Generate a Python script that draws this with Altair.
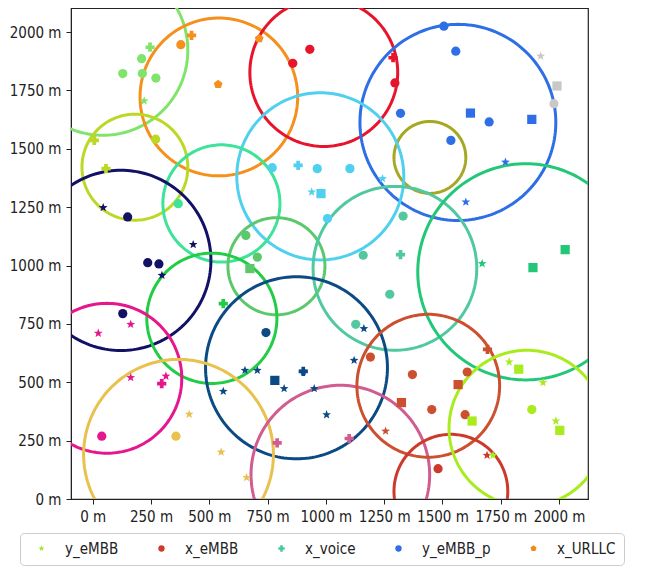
import math
import altair as alt
import pandas as pd

# ---------------- data ----------------
# cell circles (centre x, centre y, radius in metres) and their colours
cell_x = [44, 541, 991, 1566, 1446, 976, 181, 552, 121, 788, 1296, 1857, 511, 874, 61, 368, 1062, 1439, 1536, 1862]
cell_y = [1922, 1722, 1827, 1613, 1463, 1382, 1421, 1266, 1022, 997, 988, 973, 774, 562, 517, 191, 104, 485, 33, 303]
cell_r = [364, 338, 317, 420, 154, 358, 227, 251, 386, 208, 351, 463, 279, 390, 321, 407, 383, 306, 244, 334]
cell_colors = ["#80e36c", "#f5901c", "#e8142c", "#2e6ee6", "#a6a823", "#4fd0ee", "#bcd827", "#3ee39a",
               "#121166", "#5cc86c", "#52c8a0", "#22c878", "#22cc44", "#0b4a84", "#e6168c", "#e8c14f",
               "#d05c90", "#cc5030", "#cc3a2c", "#a8ec1e"]
grey_color = "#c8c8c8"

# user points: x, y (m), kind, cell index (20 = grey, no cell drawn)
pt_x = [246, 210, 129, 213, 271, 221,
        378, 424, 538, 714,
        858, 931, 1288, 1296,
        1506, 1557, 1320, 1620, 1700, 1883, 1536, 1770, 1600,
        770, 881, 963, 1103, 939, 979, 1243, 1007,
        7, 57, 270,
        367,
        45, 150, 431, 236, 284, 297, 129,
        657, 706, 674,
        1331, 1160, 1320, 1274, 1128,
        1670, 2026, 1888,
        560,
        743, 653, 706, 560, 781, 821, 903, 903, 950, 1003, 1121, 1163,
        24, 163, 163, 296, 314, 39,
        414, 357, 551, 660,
        791, 1100,
        1191, 1371, 1693, 1606, 1567, 1324, 1454, 1597, 1256,
        1481, 1691,
        1786, 1827, 1931, 1883, 1627, 1986, 2003, 1717,
        1921, 1991, 1978]
pt_y = [1935, 1886, 1822, 1822, 1803, 1705,
        1946, 1986, 1776, 1972,
        1866, 1926, 1890, 1782,
        2025, 1918, 1652, 1653, 1615, 1626, 1536, 1443, 1272,
        1419, 1429, 1415, 1415, 1315, 1308, 1372, 1201,
        1536, 1415, 1541,
        1265,
        1248, 1208, 1090, 1012, 1007, 958, 794,
        1129, 1036, 987,
        1212, 1044, 1047, 877, 748,
        1008, 1068, 991,
        837,
        713, 551, 551, 461, 508, 473, 547, 547, 473, 361, 594, 730,
        710, 748, 520, 494, 526, 269,
        363, 269, 201, 92,
        240, 259,
        608, 533, 641, 544, 490, 413, 383, 361, 291,
        130, 187,
        587, 556, 499, 383, 334, 334, 294, 187,
        1897, 1769, 1693]
pt_kind = ["plus", "circle", "circle", "circle", "circle", "star",
           "circle", "plus", "pentagon", "pentagon",
           "circle", "circle", "plus", "circle",
           "circle", "circle", "circle", "square", "circle", "square", "circle", "star", "star",
           "circle", "plus", "circle", "circle", "star", "square", "star", "circle",
           "plus", "plus", "circle",
           "circle",
           "star", "circle", "star", "circle", "circle", "star", "circle",
           "circle", "circle", "square",
           "circle", "circle", "plus", "circle", "circle",
           "star", "square", "square",
           "plus",
           "circle", "star", "star", "star", "square", "star", "plus", "star", "star", "star", "star", "star",
           "star", "star", "star", "plus", "star", "circle",
           "star", "circle", "star", "star",
           "plus", "plus",
           "circle", "circle", "plus", "circle", "square", "square", "circle", "circle", "star",
           "circle", "star",
           "star", "square", "star", "circle", "square", "star", "square", "star",
           "star", "square", "circle"]
pt_cell = [0] * 6 + [1] * 4 + [2] * 4 + [3] * 9 + [5] * 8 + [6] * 3 + [7] * 1 + [8] * 7 + [9] * 3 + \
          [10] * 5 + [11] * 3 + [12] * 1 + [13] * 12 + [14] * 6 + [15] * 4 + [16] * 2 + [17] * 9 + \
          [18] * 2 + [19] * 8 + [20] * 3

legend_names = ["y_eMBB", "x_eMBB", "x_voice", "y_eMBB_p", "x_URLLC"]
legend_colors = ["#9fe82a", "#d03a2a", "#44c8a0", "#2e6ee6", "#f08a14"]
legend_kinds = ["star", "circle", "plus", "circle", "pentagon"]

x_ticks = [0, 250, 500, 750, 1000, 1250, 1500, 1750, 2000]
y_ticks = [0, 250, 500, 750, 1000, 1250, 1500, 1750, 2000]


# ---------------- marker shapes ----------------
def star_path(inner=0.42):
    pts = []
    for k in range(10):
        rr = 1.0 if k % 2 == 0 else inner
        a = math.radians(-90 + 36 * k)
        pts.append((rr * math.cos(a), rr * math.sin(a)))
    return "M" + "L".join(f"{px:.3f},{py:.3f}" for px, py in pts) + "Z"


def pentagon_path():
    pts = []
    for k in range(5):
        a = math.radians(-90 + 72 * k)
        pts.append((math.cos(a), math.sin(a)))
    return "M" + "L".join(f"{px:.3f},{py:.3f}" for px, py in pts) + "Z"


kind_domain = ["star", "circle", "plus", "square", "pentagon"]
kind_range = [star_path(), "circle", "cross", "square", pentagon_path()]
legend_shapes = [kind_range[kind_domain.index(k)] for k in legend_kinds]

palette = cell_colors + [grey_color]

cells = pd.DataFrame({"cell": list(range(len(cell_x))), "cx": cell_x, "cy": cell_y,
                      "r": cell_r, "col": cell_colors})
points = pd.DataFrame({"x": pt_x, "y": pt_y, "kind": pt_kind,
                       "col": [palette[c] for c in pt_cell]})
leg = pd.DataFrame({"type": legend_names})

FONT = "DejaVu Sans Condensed, Liberation Sans Narrow, DejaVu Sans, sans-serif"

xscale = alt.Scale(domain=[-93, 2124], nice=False, zero=False)
yscale = alt.Scale(domain=[0, 2103], nice=False, zero=False)
xaxis = alt.Axis(values=x_ticks, labelExpr="datum.value + ' m'", title=None, grid=False)
yaxis = alt.Axis(values=y_ticks, labelExpr="datum.value + ' m'", title=None, grid=False)

circles = alt.Chart(cells).transform_calculate(
    ang="sequence(0, 362, 2)"
).transform_flatten(["ang"]).transform_calculate(
    px="datum.cx + datum.r * cos(datum.ang * PI / 180)",
    py="datum.cy + datum.r * sin(datum.ang * PI / 180)",
).mark_line(clip=True, strokeWidth=3).encode(
    x=alt.X("px:Q", scale=xscale, axis=xaxis),
    y=alt.Y("py:Q", scale=yscale, axis=yaxis),
    detail="cell:N",
    order="ang:Q",
    color=alt.Color("col:N", scale=None),
)

marks = alt.Chart(points).mark_point(filled=True, opacity=1, size=85).encode(
    x=alt.X("x:Q", scale=xscale, axis=xaxis),
    y=alt.Y("y:Q", scale=yscale, axis=yaxis),
    color=alt.Color("col:N", scale=None),
    shape=alt.Shape("kind:N", scale=alt.Scale(domain=kind_domain, range=kind_range), legend=None),
)

legend_def = alt.Legend(
    title=None, orient="none", legendX=-51, legendY=525, direction="horizontal", columns=5,
    gridAlign="none", columnPadding=29, symbolOpacity=1, symbolSize=40, labelFontSize=15,
    labelFont=FONT, labelColor="#222222", labelOffset=16, padding=8, strokeColor="#cccccc",
    cornerRadius=4, fillColor="white", symbolOffset=6, symbolStrokeWidth=0,
)

legend_layer = alt.Chart(leg).mark_point(filled=True, opacity=0).encode(
    x=alt.value(0),
    y=alt.value(0),
    color=alt.Color("type:N", scale=alt.Scale(domain=legend_names, range=legend_colors), legend=legend_def),
    shape=alt.Shape("type:N", scale=alt.Scale(domain=legend_names, range=legend_shapes), legend=legend_def),
)

chart = alt.layer(circles, marks, legend_layer).resolve_scale(
    color="independent", shape="independent"
).properties(
    width=517, height=491,
    autosize=alt.AutoSizeParams(type="none"),
    padding={"left": 63, "top": 0, "right": 60, "bottom": 67},
).configure_view(
    stroke="#222222", strokeWidth=1.2
).configure_axis(
    labelFont=FONT, labelFontSize=15, labelColor="#222222", tickColor="#222222",
    domainColor="#222222", tickSize=5, labelPadding=5,
)

chart.save("out.html", embed_options={"renderer": "svg", "actions": False})
